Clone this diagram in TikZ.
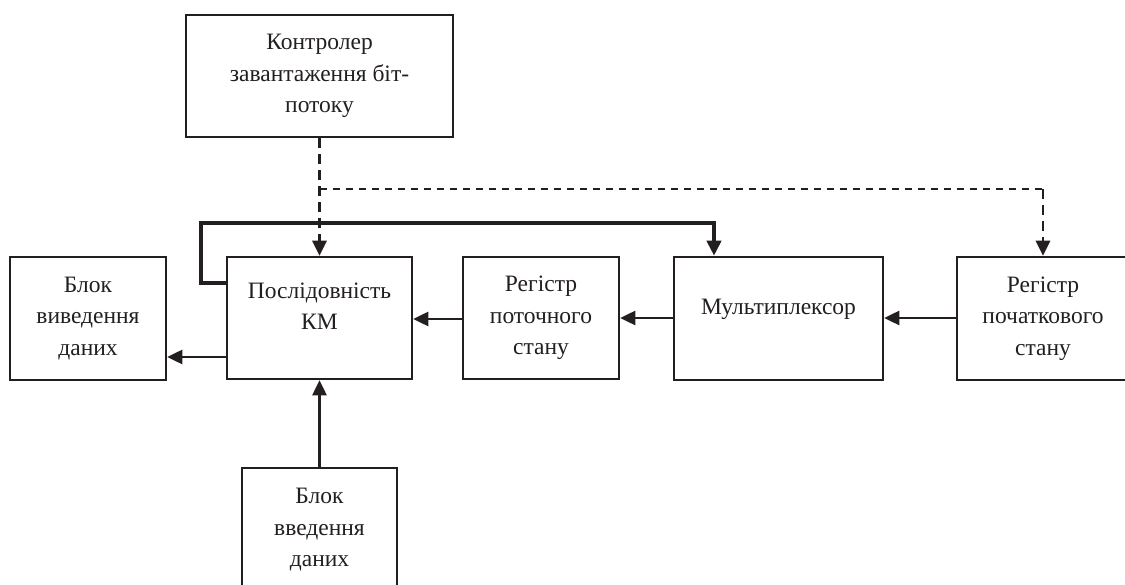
\documentclass[tikz,border=0pt]{standalone}
\usepackage{fontspec}
\setmainfont{Liberation Serif}
\usetikzlibrary{arrows.meta}
\definecolor{ink}{RGB}{35,31,32}
\begin{document}
\begin{tikzpicture}[x=1pt,y=-1pt,
  box/.style={draw=ink,line width=2.5pt,rectangle,inner sep=0pt,align=center,text=ink,
    font=\fontsize{23.5}{31.5}\selectfont},
  txt/.style={inner sep=0pt,align=center,text=ink,font=\fontsize{23.5}{31.5}\selectfont},
  arr/.style={-{Triangle[length=15pt,width=14pt]}},
  conn/.style={draw=ink,line width=2.5pt},
  thk/.style={draw=ink,line width=4.2pt},
  dashthick/.style={draw=ink,line width=2.8pt,dash pattern=on 10pt off 6pt},
  dashthin/.style={draw=ink,line width=1.8pt,dash pattern=on 7pt off 6pt}]
\fill[white] (0,0) rectangle (1125,585);
\useasboundingbox (0,0) rectangle (1125,585);
\node[box,minimum width=267pt,minimum height=122pt] (ctrl) at (319.5,76) {Контролер\\завантаження біт-\\потоку};
\node[box,minimum width=185pt,minimum height=122pt] (km) at (319.5,318) {};
\node[txt] (kmt) at (319.5,306) {Послідовність\\КМ};
\node[box,minimum width=156pt,minimum height=123pt] (out) at (88,318.5) {Блок\\виведення\\даних};
\node[box,minimum width=156pt,minimum height=122pt] (reg) at (541,318) {Регістр\\поточного\\стану};
\node[box,minimum width=209pt,minimum height=123pt] (mux) at (778.5,318.5) {};
\node[txt] (muxt) at (778.5,309) {Мультиплексор};
\node[box,minimum width=172pt,minimum height=123pt] (init) at (1043,318.5) {Регістр\\початкового\\стану};
\node[box,minimum width=155pt,minimum height=124pt] (in) at (319.5,530) {Блок\\введення\\даних};
\coordinate (d1) at (319.5,189);
\coordinate (d2) at (1043,189);
\coordinate (t0) at (201,283);
\coordinate (t1) at (201,223);
\coordinate (t2) at (714,223);
% thick feedback loop
\draw[thk,arr] (km.west |- t0) -- (t0) -- (t1) -- (t2) -- (t2 |- mux.north);
% dashed control lines
\draw[dashthin] (d1) -- (d2);
\draw[dashthick,arr] (ctrl.south) -- (km.north);
\draw[dashthick,arr] (d2) -- (init.north);
% data connectors
\draw[conn,arr] (km.west |- 0,357) -- (out.east |- 0,357);
\draw[conn,arr] (reg.west |- 0,319) -- (km.east |- 0,319);
\draw[conn,arr] (mux.west |- 0,318) -- (reg.east |- 0,318);
\draw[conn,arr] (init.west |- 0,318) -- (mux.east |- 0,318);
\draw[conn,arr] (in.north) -- (km.south);
\end{tikzpicture}
\end{document}
